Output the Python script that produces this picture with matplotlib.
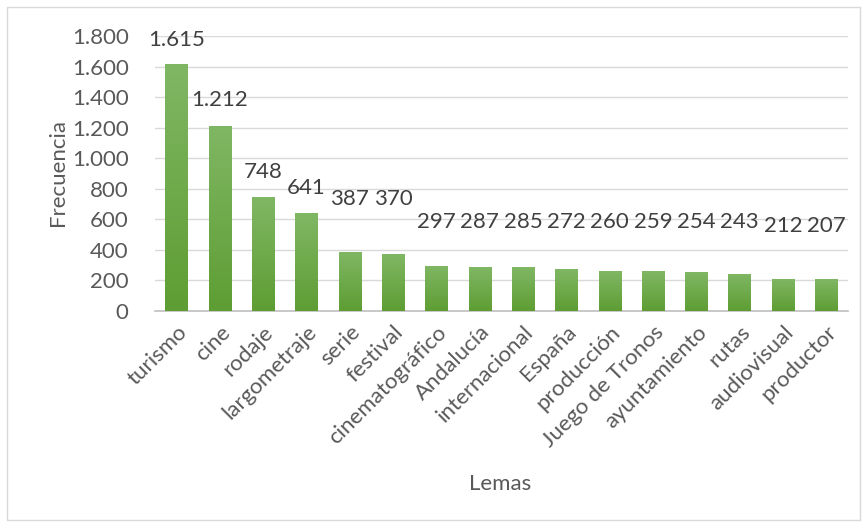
import matplotlib.pyplot as plt
import numpy as np
from matplotlib.colors import LinearSegmentedColormap
from matplotlib.patches import Rectangle

# data
lemas = ["turismo", "cine", "rodaje", "largometraje", "serie", "festival",
         "cinematográfico", "Andalucía", "internacional", "España", "producción",
         "Juego de Tronos", "ayuntamiento", "rutas", "audiovisual", "productor"]
frecuencia = [1615, 1212, 748, 641, 387, 370, 297, 287, 285, 272, 260, 259, 254, 243, 212, 207]
yticks = [0, 200, 400, 600, 800, 1000, 1200, 1400, 1600, 1800]

# label gap above each bar (pixels), as placed in the original
label_gap_px = [24, 26, 25, 25, 53, 55, 44, 45, 45, 47, 49, 49, 50, 52, 53, 53]

TEXT = "#595959"
FONT = ["Lato", "DejaVu Sans"]
plt.rcParams["font.family"] = FONT
FS = 16


def fmt(v):
    return "{:,}".format(v).replace(",", ".")


fig = plt.figure(figsize=(8.65, 5.25), dpi=100)
fig.patches.append(Rectangle((7 / 865, 5 / 525), 853 / 865, 513 / 525, transform=fig.transFigure,
                             fill=False, edgecolor="#d9d9d9", linewidth=1))
ax = fig.add_axes([155 / 865, (525 - 311) / 525, 693 / 865, 275 / 525])

x = np.arange(len(lemas))
bars = ax.bar(x, frecuencia, width=0.52, color="#70ad47", zorder=3)

# vertical gradient fill like the excel bars
cmap = LinearSegmentedColormap.from_list("g", ["#5e9d33", "#80b764"])
grad = np.linspace(0, 1, 256).reshape(-1, 1)
for b in bars:
    b.set_facecolor("none")
    im = ax.imshow(grad, cmap=cmap, origin="lower", aspect="auto", zorder=3,
                   extent=[b.get_x(), b.get_x() + b.get_width(), 0, b.get_height()])
    im.set_clip_path(b)

ax.set_xlim(-0.5, len(lemas) - 0.5)
ax.set_ylim(0, 1800)
ax.set_yticks(yticks)
ax.set_yticklabels([fmt(v) for v in yticks])
ax.grid(axis="y", color="#d9d9d9", linewidth=1, zorder=0)
for s in ["top", "right", "left"]:
    ax.spines[s].set_visible(False)
ax.spines["bottom"].set_color("#bfbfbf")
ax.spines["bottom"].set_linewidth(1.2)
ax.tick_params(axis="both", length=0, colors=TEXT, labelsize=FS)
ax.tick_params(axis="y", pad=19)
ax.set_xticks(x)
ax.set_xticklabels(lemas, rotation=45, ha="right", rotation_mode="anchor")
ax.tick_params(axis="x", pad=8)

for xi, v, gap in zip(x, frecuencia, label_gap_px):
    ax.annotate(fmt(v), (xi, v), xytext=(0, gap * 0.72), textcoords="offset points",
                ha="center", va="center", fontsize=FS, color="#404040", zorder=4)

fig.text(500 / 865, 1 - 484 / 525, "Lemas", ha="center", va="center", fontsize=FS, color=TEXT)
fig.text(58 / 865, 1 - 173 / 525, "Frecuencia", ha="center", va="center", rotation=90,
         fontsize=FS, color=TEXT)

fig.savefig("out.png", dpi=100)
